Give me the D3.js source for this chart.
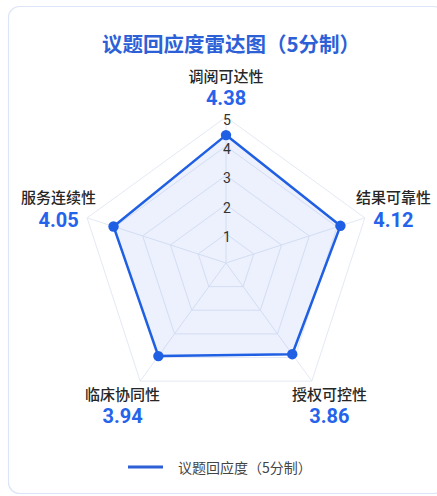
<!DOCTYPE html>
<html><head><meta charset="utf-8">
<script src="https://cdn.jsdelivr.net/npm/d3@7"></script>
<style>
html,body{margin:0;padding:0;background:#fff;}
svg{display:block;font-family:"Noto Sans CJK SC","Noto Sans",sans-serif;}
.num{font-family:Roboto,"Noto Sans",sans-serif;}
</style></head>
<body>
<svg id="chart" width="437" height="496"></svg>
<script>
const title = "议题回应度雷达图（5分制）";
const indicators = ["调阅可达性","结果可靠性","授权可控性","临床协同性","服务连续性"];
const values = [4.38, 4.12, 3.86, 3.94, 4.05];
const ringTicks = [1,2,3,4,5];
const seriesName = "议题回应度（5分制）";
const maxValue = 5;

const svg = d3.select("#chart");
const cx = 226, cy = 263, R = 146;
const r = d3.scaleLinear().domain([0, maxValue]).range([0, R]);
const angle = d3.scaleLinear().domain([0, indicators.length]).range([0, 2*Math.PI]);
const pt = (i, rad) => [cx + rad*Math.sin(angle(i)), cy - rad*Math.cos(angle(i))];

// card
svg.append("rect").attr("x",8.5).attr("y",6.5).attr("width",436).attr("height",487)
  .attr("rx",11).attr("fill","#fff").attr("stroke","#dce5f7").attr("stroke-width",1.2);

// title
svg.append("text").attr("x",231).attr("y",43).attr("text-anchor","middle")
  .attr("dominant-baseline","central").attr("font-size",20.5).attr("font-weight",700)
  .attr("fill","#2d5fd6").text(title);

// grid rings
const g = svg.append("g");
ringTicks.forEach(t => {
  const pts = indicators.map((d,i) => pt(i, r(t)));
  g.append("polygon").attr("points", pts.map(p=>p.join(",")).join(" "))
    .attr("fill", "none").attr("stroke","#e4e9f4").attr("stroke-width",1);
});
indicators.forEach((d,i) => {
  const p = pt(i, R);
  g.append("line").attr("x1",cx).attr("y1",cy).attr("x2",p[0]).attr("y2",p[1])
    .attr("stroke","#e4e9f4").attr("stroke-width",1);
});

// data area
const line = d3.line().curve(d3.curveLinearClosed);
const dataPts = values.map((v,i) => pt(i, r(v)));
svg.append("path").attr("d", line(dataPts))
  .attr("fill","rgba(70,120,235,0.10)").attr("stroke","#1f5fe3").attr("stroke-width",2.5)
  .attr("stroke-linejoin","round");
svg.selectAll("circle.dot").data(dataPts).enter().append("circle")
  .attr("cx",d=>d[0]).attr("cy",d=>d[1]).attr("r",5.2).attr("fill","#1f5fe3");

// tick labels
ringTicks.forEach(t => {
  svg.append("text").attr("class","num").attr("x",cx+1).attr("y",cy - r(t) + 3).attr("text-anchor","middle")
    .attr("dominant-baseline","central").attr("font-size",14).attr("fill","#333").text(t);
});

// indicator labels
const LR = 176;
indicators.forEach((d,i) => {
  const p = pt(i, LR);
  svg.append("text").attr("x",p[0]).attr("y",p[1]-12).attr("text-anchor","middle")
    .attr("dominant-baseline","central").attr("font-size",15).attr("font-weight",500)
    .attr("fill","#262626").text(d);
  svg.append("text").attr("class","num").attr("x",p[0]).attr("y",p[1]+11).attr("text-anchor","middle")
    .attr("dominant-baseline","central").attr("font-size",20).attr("font-weight",700)
    .attr("fill","#2563eb").text(values[i].toFixed(2));
});

// legend
svg.append("line").attr("x1",128).attr("x2",163).attr("y1",467).attr("y2",467)
  .attr("stroke","#2d5fd6").attr("stroke-width",3);
svg.append("text").attr("x",178).attr("y",467).attr("dominant-baseline","central")
  .attr("font-size",14).attr("fill","#444").text(seriesName);
</script>
</body></html>
